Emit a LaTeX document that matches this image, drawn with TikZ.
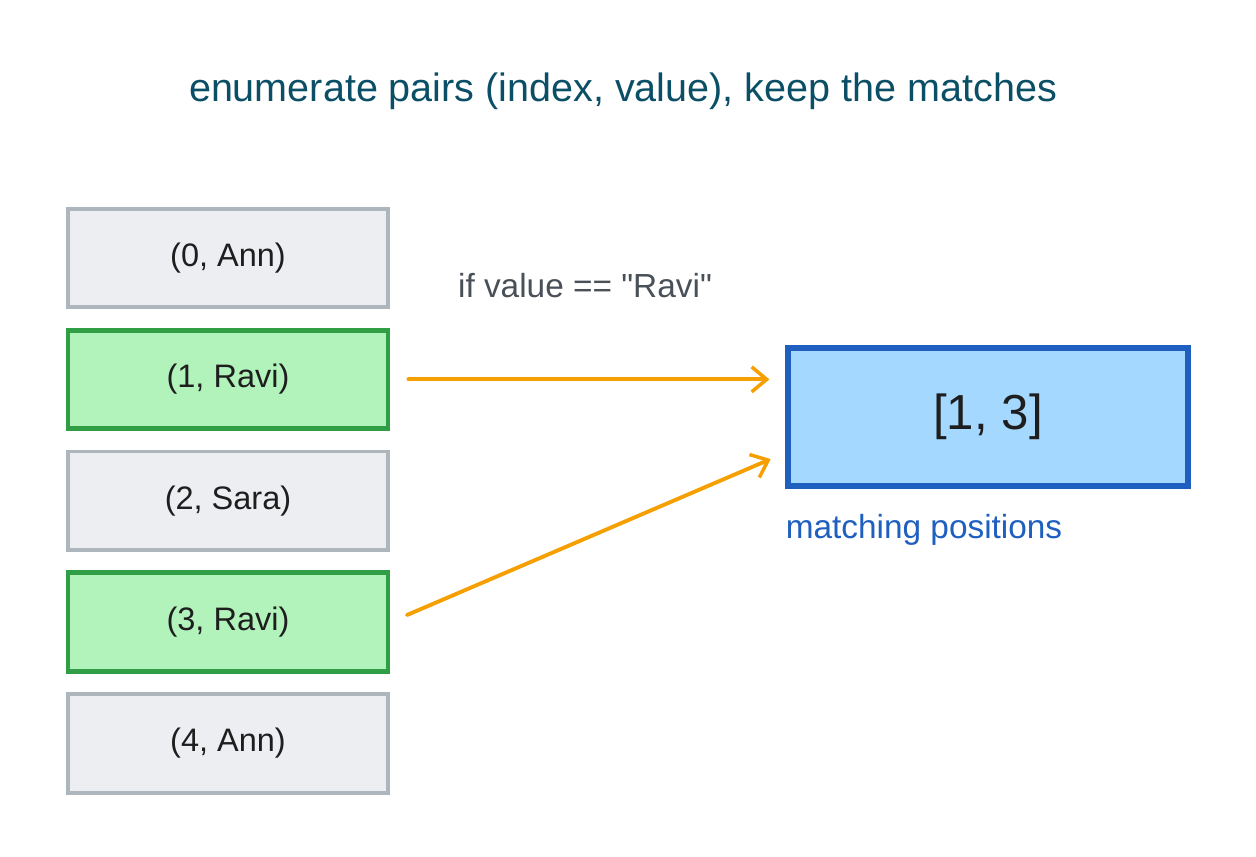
\documentclass[tikz,border=0pt]{standalone}
\usepackage{fontspec}
\setmainfont{Liberation Sans}
\usetikzlibrary{arrows.meta}
\usetikzlibrary{positioning}
\definecolor{greyline}{HTML}{ADB5BD}
\definecolor{greyfill}{HTML}{ECEEF1}
\definecolor{greenline}{HTML}{2F9E44}
\definecolor{greenfill}{HTML}{B2F2BB}
\definecolor{blueline}{HTML}{1E5FBF}
\definecolor{bluefill}{HTML}{A5D8FF}
\definecolor{amber}{HTML}{F59F00}
\definecolor{ink}{HTML}{1E1E1E}
\definecolor{teal}{HTML}{0B4F66}
\definecolor{slate}{HTML}{495057}
\tikzset{pair/.style = {draw=greyline, fill=greyfill, line width=2.2pt,
                        minimum width=6.4cm, minimum height=1.97cm,
                        text=ink, font=\fontsize{18.5}{22}\selectfont},
         hit/.style = {pair, draw=greenline, fill=greenfill, line width=2.8pt},
         flow/.style = {draw=amber, line width=2.2pt, line cap=round,
                        -{Straight Barb[length=0.3cm, width=0.5cm, line width=2pt]},
                        shorten <=0.36cm, shorten >=0.32cm}}

\begin{document}
\begin{tikzpicture}[x=0.02cm, y=-0.02cm, node distance=0.37cm]
    \useasboundingbox (0, 0) rectangle (1256, 856);

    \node [text=teal, font=\fontsize{22.5}{26}\selectfont] (title) at (623, 91)
        {enumerate pairs (index, value), keep the matches};

    \node [pair] (p0) at (228, 258) {(0, Ann)};
    \node [hit, below=of p0] (p1) {(1, Ravi)};
    \node [pair, below=of p1] (p2) {(2, Sara)};
    \node [hit, below=of p2] (p3) {(3, Ravi)};
    \node [pair, below=of p3] (p4) {(4, Ann)};

    \node [text=slate, font=\fontsize{19}{22}\selectfont] (cond) at (585, 286)
        {if value == \textquotedbl Ravi\textquotedbl};

    \node [draw=blueline, fill=bluefill, line width=3pt, minimum width=8cm,
           minimum height=2.76cm, text=ink, font=\fontsize{28}{32}\selectfont]
        (res) at (988, 417) {[1, 3]};
    \node [below right=0.5cm and 0cm of res.south west, inner sep=0pt,
           text=blueline, font=\fontsize{19}{22}\selectfont] (lbl)
        {matching positions};

    \draw [flow] (p1.east) -- (res.west |- p1.east);
    \draw [flow] (p3.east) -- (res.190);
\end{tikzpicture}
\end{document}
